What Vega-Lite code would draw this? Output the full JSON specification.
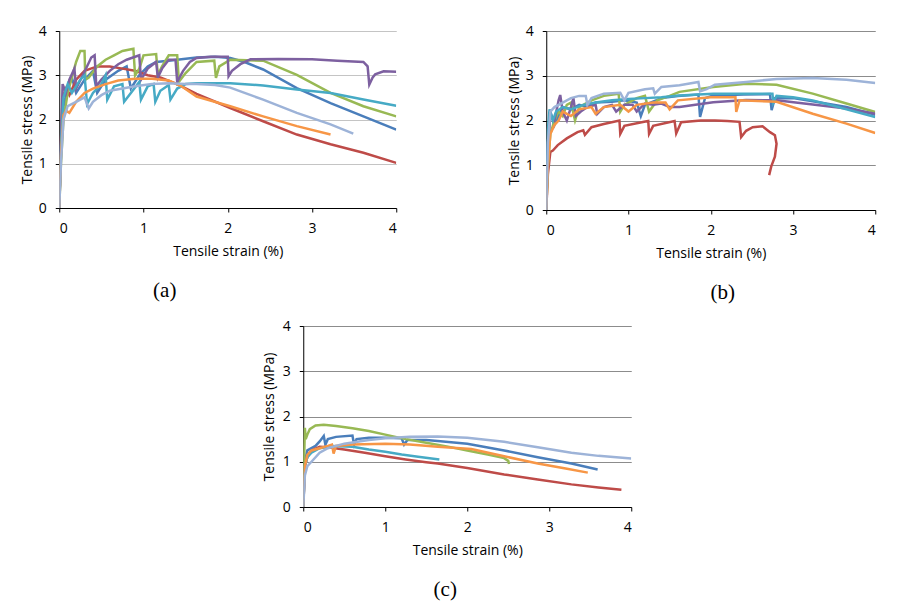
{
 "$schema": "https://vega.github.io/schema/vega-lite/v6.json",
 "background": "white",
 "padding": {"left": 20, "top": 24, "right": 5, "bottom": 5},
 "config": {
  "view": {"stroke": null},
  "font": "Open Sans",
  "axis": {"domainColor": "#000", "tickColor": "#000", "tickSize": 4, "labelFont": "Open Sans", "labelFontSize": 14, "labelColor": "#000", "titleFont": "Open Sans", "titleFontSize": 14, "titleFontWeight": "normal", "titleColor": "#000"},
  "axisX": {"labelPadding": 9, "titlePadding": 9, "grid": false, "labelAngle": 0},
  "axisY": {"labelPadding": 9, "titlePadding": 4, "grid": true},
  "title": {"font": "Liberation Serif", "fontSize": 21, "fontWeight": "normal", "color": "#000", "orient": "bottom", "anchor": "middle", "offset": 22}
 },
 "datasets": {
  "a": [
   {"s":"S1","x":0,"y":0},{"s":"S1","x":0.02,"y":1.2},{"s":"S1","x":0.05,"y":2.3},{"s":"S1","x":0.1,"y":2.7},{"s":"S1","x":0.15,"y":2.95},{"s":"S1","x":0.2,"y":2.6},{"s":"S1","x":0.3,"y":2.9},{"s":"S1","x":0.4,"y":3.1},{"s":"S1","x":0.45,"y":2.6},{"s":"S1","x":0.55,"y":2.9},{"s":"S1","x":0.7,"y":3.1},{"s":"S1","x":0.8,"y":3.2},{"s":"S1","x":0.85,"y":2.7},{"s":"S1","x":0.95,"y":3.0},{"s":"S1","x":1.05,"y":3.2},{"s":"S1","x":1.15,"y":3.3},{"s":"S1","x":1.3,"y":3.33},{"s":"S1","x":1.45,"y":3.36},{"s":"S1","x":1.63,"y":3.4},{"s":"S1","x":1.85,"y":3.42},{"s":"S1","x":2.03,"y":3.39},{"s":"S1","x":2.2,"y":3.3},{"s":"S1","x":2.42,"y":3.13},{"s":"S1","x":2.82,"y":2.71},{"s":"S1","x":3.22,"y":2.37},{"s":"S1","x":3.61,"y":2.07},{"s":"S1","x":4.0,"y":1.77},
   {"s":"S2","x":0,"y":0},{"s":"S2","x":0.02,"y":1.5},{"s":"S2","x":0.04,"y":2.5},{"s":"S2","x":0.08,"y":2.7},{"s":"S2","x":0.12,"y":2.55},{"s":"S2","x":0.2,"y":2.9},{"s":"S2","x":0.3,"y":3.1},{"s":"S2","x":0.45,"y":3.2},{"s":"S2","x":0.6,"y":3.2},{"s":"S2","x":0.75,"y":3.15},{"s":"S2","x":0.9,"y":3.1},{"s":"S2","x":1.05,"y":3.0},{"s":"S2","x":1.2,"y":2.95},{"s":"S2","x":1.4,"y":2.8},{"s":"S2","x":1.63,"y":2.58},{"s":"S2","x":2.03,"y":2.26},{"s":"S2","x":2.42,"y":1.96},{"s":"S2","x":2.82,"y":1.66},{"s":"S2","x":3.22,"y":1.44},{"s":"S2","x":3.61,"y":1.25},{"s":"S2","x":4.0,"y":1.02},
   {"s":"S3","x":0,"y":0},{"s":"S3","x":0.02,"y":1.0},{"s":"S3","x":0.05,"y":2.0},{"s":"S3","x":0.1,"y":2.6},{"s":"S3","x":0.2,"y":3.3},{"s":"S3","x":0.25,"y":3.55},{"s":"S3","x":0.3,"y":3.55},{"s":"S3","x":0.31,"y":2.9},{"s":"S3","x":0.35,"y":2.95},{"s":"S3","x":0.45,"y":3.2},{"s":"S3","x":0.55,"y":3.35},{"s":"S3","x":0.65,"y":3.45},{"s":"S3","x":0.75,"y":3.55},{"s":"S3","x":0.88,"y":3.6},{"s":"S3","x":0.9,"y":3.0},{"s":"S3","x":0.95,"y":3.15},{"s":"S3","x":1.0,"y":3.45},{"s":"S3","x":1.15,"y":3.48},{"s":"S3","x":1.17,"y":3.0},{"s":"S3","x":1.22,"y":3.2},{"s":"S3","x":1.3,"y":3.45},{"s":"S3","x":1.4,"y":3.45},{"s":"S3","x":1.42,"y":2.85},{"s":"S3","x":1.5,"y":3.05},{"s":"S3","x":1.63,"y":3.3},{"s":"S3","x":1.84,"y":3.33},{"s":"S3","x":1.86,"y":2.94},{"s":"S3","x":1.9,"y":3.2},{"s":"S3","x":2.03,"y":3.35},{"s":"S3","x":2.42,"y":3.33},{"s":"S3","x":2.82,"y":3.01},{"s":"S3","x":3.22,"y":2.6},{"s":"S3","x":3.61,"y":2.3},{"s":"S3","x":4.0,"y":2.07},
   {"s":"S4","x":0,"y":0},{"s":"S4","x":0.02,"y":1.5},{"s":"S4","x":0.04,"y":2.8},{"s":"S4","x":0.08,"y":2.6},{"s":"S4","x":0.12,"y":2.9},{"s":"S4","x":0.18,"y":3.15},{"s":"S4","x":0.2,"y":2.7},{"s":"S4","x":0.28,"y":3.0},{"s":"S4","x":0.38,"y":3.4},{"s":"S4","x":0.42,"y":3.45},{"s":"S4","x":0.44,"y":2.75},{"s":"S4","x":0.5,"y":2.9},{"s":"S4","x":0.6,"y":3.1},{"s":"S4","x":0.7,"y":3.25},{"s":"S4","x":0.8,"y":3.35},{"s":"S4","x":0.95,"y":3.45},{"s":"S4","x":0.97,"y":2.9},{"s":"S4","x":1.05,"y":3.15},{"s":"S4","x":1.15,"y":3.3},{"s":"S4","x":1.17,"y":2.95},{"s":"S4","x":1.22,"y":3.15},{"s":"S4","x":1.3,"y":3.35},{"s":"S4","x":1.38,"y":3.35},{"s":"S4","x":1.4,"y":2.85},{"s":"S4","x":1.47,"y":3.1},{"s":"S4","x":1.55,"y":3.3},{"s":"S4","x":1.63,"y":3.39},{"s":"S4","x":1.8,"y":3.42},{"s":"S4","x":2.0,"y":3.42},{"s":"S4","x":2.01,"y":2.98},{"s":"S4","x":2.05,"y":3.1},{"s":"S4","x":2.15,"y":3.25},{"s":"S4","x":2.27,"y":3.36},{"s":"S4","x":2.6,"y":3.37},{"s":"S4","x":3.0,"y":3.36},{"s":"S4","x":3.3,"y":3.33},{"s":"S4","x":3.61,"y":3.3},{"s":"S4","x":3.66,"y":3.2},{"s":"S4","x":3.68,"y":2.79},{"s":"S4","x":3.72,"y":2.95},{"s":"S4","x":3.75,"y":3.02},{"s":"S4","x":3.85,"y":3.09},{"s":"S4","x":4.0,"y":3.08},
   {"s":"S5","x":0,"y":0},{"s":"S5","x":0.02,"y":1.4},{"s":"S5","x":0.05,"y":2.5},{"s":"S5","x":0.1,"y":2.8},{"s":"S5","x":0.15,"y":2.6},{"s":"S5","x":0.25,"y":2.9},{"s":"S5","x":0.3,"y":3.0},{"s":"S5","x":0.33,"y":2.35},{"s":"S5","x":0.4,"y":2.6},{"s":"S5","x":0.5,"y":2.8},{"s":"S5","x":0.55,"y":3.0},{"s":"S5","x":0.57,"y":2.45},{"s":"S5","x":0.65,"y":2.75},{"s":"S5","x":0.75,"y":2.8},{"s":"S5","x":0.77,"y":2.4},{"s":"S5","x":0.85,"y":2.6},{"s":"S5","x":0.95,"y":2.85},{"s":"S5","x":0.97,"y":2.45},{"s":"S5","x":1.05,"y":2.75},{"s":"S5","x":1.12,"y":2.8},{"s":"S5","x":1.14,"y":2.4},{"s":"S5","x":1.2,"y":2.65},{"s":"S5","x":1.3,"y":2.78},{"s":"S5","x":1.32,"y":2.45},{"s":"S5","x":1.4,"y":2.7},{"s":"S5","x":1.5,"y":2.8},{"s":"S5","x":1.63,"y":2.82},{"s":"S5","x":2.03,"y":2.82},{"s":"S5","x":2.42,"y":2.77},{"s":"S5","x":2.82,"y":2.68},{"s":"S5","x":3.22,"y":2.6},{"s":"S5","x":3.61,"y":2.45},{"s":"S5","x":4.0,"y":2.31},
   {"s":"S6","x":0,"y":0},{"s":"S6","x":0.02,"y":1.2},{"s":"S6","x":0.05,"y":2.1},{"s":"S6","x":0.08,"y":2.2},{"s":"S6","x":0.12,"y":2.15},{"s":"S6","x":0.2,"y":2.4},{"s":"S6","x":0.3,"y":2.6},{"s":"S6","x":0.4,"y":2.7},{"s":"S6","x":0.55,"y":2.8},{"s":"S6","x":0.7,"y":2.88},{"s":"S6","x":0.9,"y":2.92},{"s":"S6","x":1.1,"y":2.92},{"s":"S6","x":1.3,"y":2.88},{"s":"S6","x":1.45,"y":2.75},{"s":"S6","x":1.63,"y":2.52},{"s":"S6","x":2.03,"y":2.3},{"s":"S6","x":2.42,"y":2.07},{"s":"S6","x":2.82,"y":1.85},{"s":"S6","x":3.22,"y":1.66},
   {"s":"S7","x":0,"y":0},{"s":"S7","x":0.02,"y":1.0},{"s":"S7","x":0.05,"y":2.0},{"s":"S7","x":0.1,"y":2.3},{"s":"S7","x":0.2,"y":2.4},{"s":"S7","x":0.3,"y":2.5},{"s":"S7","x":0.35,"y":2.25},{"s":"S7","x":0.4,"y":2.4},{"s":"S7","x":0.5,"y":2.55},{"s":"S7","x":0.6,"y":2.65},{"s":"S7","x":0.75,"y":2.7},{"s":"S7","x":0.9,"y":2.75},{"s":"S7","x":1.1,"y":2.8},{"s":"S7","x":1.3,"y":2.82},{"s":"S7","x":1.5,"y":2.8},{"s":"S7","x":1.63,"y":2.8},{"s":"S7","x":1.85,"y":2.78},{"s":"S7","x":2.03,"y":2.72},{"s":"S7","x":2.2,"y":2.6},{"s":"S7","x":2.42,"y":2.45},{"s":"S7","x":2.82,"y":2.15},{"s":"S7","x":3.22,"y":1.89},{"s":"S7","x":3.49,"y":1.68}
  ],
  "b": [
   {"s":"S1","x":0,"y":0},{"s":"S1","x":0.02,"y":1.5},{"s":"S1","x":0.05,"y":2.2},{"s":"S1","x":0.1,"y":1.9},{"s":"S1","x":0.15,"y":2.1},{"s":"S1","x":0.2,"y":2.3},{"s":"S1","x":0.3,"y":2.25},{"s":"S1","x":0.4,"y":2.35},{"s":"S1","x":0.5,"y":2.3},{"s":"S1","x":0.6,"y":2.4},{"s":"S1","x":0.8,"y":2.42},{"s":"S1","x":0.95,"y":2.45},{"s":"S1","x":1.1,"y":2.4},{"s":"S1","x":1.15,"y":2.1},{"s":"S1","x":1.2,"y":2.35},{"s":"S1","x":1.4,"y":2.5},{"s":"S1","x":1.6,"y":2.55},{"s":"S1","x":1.85,"y":2.58},{"s":"S1","x":1.87,"y":2.08},{"s":"S1","x":1.93,"y":2.5},{"s":"S1","x":2.03,"y":2.56},{"s":"S1","x":2.4,"y":2.58},{"s":"S1","x":2.72,"y":2.59},{"s":"S1","x":2.74,"y":2.23},{"s":"S1","x":2.78,"y":2.5},{"s":"S1","x":3.0,"y":2.5},{"s":"S1","x":3.24,"y":2.43},{"s":"S1","x":3.65,"y":2.3},{"s":"S1","x":4.0,"y":2.13},
   {"s":"S2","x":0,"y":0},{"s":"S2","x":0.02,"y":0.8},{"s":"S2","x":0.05,"y":1.3},{"s":"S2","x":0.08,"y":1.33},{"s":"S2","x":0.14,"y":1.45},{"s":"S2","x":0.25,"y":1.6},{"s":"S2","x":0.38,"y":1.74},{"s":"S2","x":0.45,"y":1.78},{"s":"S2","x":0.47,"y":1.68},{"s":"S2","x":0.55,"y":1.85},{"s":"S2","x":0.7,"y":1.92},{"s":"S2","x":0.89,"y":2.0},{"s":"S2","x":0.9,"y":1.7},{"s":"S2","x":0.95,"y":1.88},{"s":"S2","x":1.19,"y":1.97},{"s":"S2","x":1.24,"y":1.99},{"s":"S2","x":1.25,"y":1.7},{"s":"S2","x":1.3,"y":1.88},{"s":"S2","x":1.56,"y":1.99},{"s":"S2","x":1.58,"y":1.71},{"s":"S2","x":1.64,"y":1.96},{"s":"S2","x":1.88,"y":2.0},{"s":"S2","x":2.05,"y":2.0},{"s":"S2","x":2.2,"y":1.99},{"s":"S2","x":2.35,"y":1.97},{"s":"S2","x":2.37,"y":1.63},{"s":"S2","x":2.43,"y":1.77},{"s":"S2","x":2.51,"y":1.85},{"s":"S2","x":2.63,"y":1.87},{"s":"S2","x":2.72,"y":1.74},{"s":"S2","x":2.78,"y":1.67},{"s":"S2","x":2.8,"y":1.48},{"s":"S2","x":2.78,"y":1.19},{"s":"S2","x":2.735,"y":0.97},{"s":"S2","x":2.71,"y":0.78},
   {"s":"S3","x":0,"y":0},{"s":"S3","x":0.02,"y":1.0},{"s":"S3","x":0.05,"y":1.7},{"s":"S3","x":0.1,"y":2.0},{"s":"S3","x":0.15,"y":2.2},{"s":"S3","x":0.2,"y":2.1},{"s":"S3","x":0.25,"y":2.35},{"s":"S3","x":0.3,"y":2.4},{"s":"S3","x":0.35,"y":2.0},{"s":"S3","x":0.4,"y":2.3},{"s":"S3","x":0.55,"y":2.45},{"s":"S3","x":0.7,"y":2.55},{"s":"S3","x":0.88,"y":2.6},{"s":"S3","x":0.9,"y":2.2},{"s":"S3","x":0.95,"y":2.35},{"s":"S3","x":1.1,"y":2.5},{"s":"S3","x":1.2,"y":2.55},{"s":"S3","x":1.25,"y":2.2},{"s":"S3","x":1.35,"y":2.45},{"s":"S3","x":1.5,"y":2.55},{"s":"S3","x":1.62,"y":2.64},{"s":"S3","x":2.03,"y":2.75},{"s":"S3","x":2.43,"y":2.82},{"s":"S3","x":2.8,"y":2.8},{"s":"S3","x":3.24,"y":2.6},{"s":"S3","x":3.65,"y":2.38},{"s":"S3","x":4.0,"y":2.19},
   {"s":"S4","x":0,"y":0},{"s":"S4","x":0.02,"y":1.5},{"s":"S4","x":0.05,"y":2.1},{"s":"S4","x":0.1,"y":2.0},{"s":"S4","x":0.15,"y":2.45},{"s":"S4","x":0.17,"y":2.57},{"s":"S4","x":0.2,"y":2.2},{"s":"S4","x":0.25,"y":2.0},{"s":"S4","x":0.3,"y":2.3},{"s":"S4","x":0.33,"y":2.5},{"s":"S4","x":0.36,"y":2.1},{"s":"S4","x":0.42,"y":2.2},{"s":"S4","x":0.5,"y":2.3},{"s":"S4","x":0.6,"y":2.35},{"s":"S4","x":0.62,"y":2.15},{"s":"S4","x":0.7,"y":2.3},{"s":"S4","x":0.8,"y":2.35},{"s":"S4","x":0.85,"y":2.2},{"s":"S4","x":0.95,"y":2.35},{"s":"S4","x":1.05,"y":2.35},{"s":"S4","x":1.1,"y":2.2},{"s":"S4","x":1.2,"y":2.38},{"s":"S4","x":1.3,"y":2.35},{"s":"S4","x":1.4,"y":2.38},{"s":"S4","x":1.5,"y":2.3},{"s":"S4","x":1.62,"y":2.3},{"s":"S4","x":2.03,"y":2.41},{"s":"S4","x":2.43,"y":2.46},{"s":"S4","x":2.8,"y":2.45},{"s":"S4","x":3.24,"y":2.36},{"s":"S4","x":3.65,"y":2.27},{"s":"S4","x":4.0,"y":2.15},
   {"s":"S5","x":0,"y":0},{"s":"S5","x":0.02,"y":1.8},{"s":"S5","x":0.04,"y":2.25},{"s":"S5","x":0.08,"y":2.0},{"s":"S5","x":0.12,"y":2.2},{"s":"S5","x":0.2,"y":2.3},{"s":"S5","x":0.3,"y":2.25},{"s":"S5","x":0.45,"y":2.35},{"s":"S5","x":0.6,"y":2.4},{"s":"S5","x":0.8,"y":2.45},{"s":"S5","x":1.0,"y":2.48},{"s":"S5","x":1.2,"y":2.5},{"s":"S5","x":1.4,"y":2.52},{"s":"S5","x":1.62,"y":2.56},{"s":"S5","x":2.03,"y":2.6},{"s":"S5","x":2.4,"y":2.6},{"s":"S5","x":2.75,"y":2.6},{"s":"S5","x":2.76,"y":2.4},{"s":"S5","x":2.8,"y":2.55},{"s":"S5","x":3.0,"y":2.52},{"s":"S5","x":3.24,"y":2.45},{"s":"S5","x":3.65,"y":2.25},{"s":"S5","x":4.0,"y":2.08},
   {"s":"S6","x":0,"y":0},{"s":"S6","x":0.02,"y":1.0},{"s":"S6","x":0.05,"y":1.7},{"s":"S6","x":0.1,"y":1.9},{"s":"S6","x":0.15,"y":2.0},{"s":"S6","x":0.2,"y":2.2},{"s":"S6","x":0.3,"y":2.1},{"s":"S6","x":0.4,"y":2.25},{"s":"S6","x":0.55,"y":2.3},{"s":"S6","x":0.6,"y":2.15},{"s":"S6","x":0.7,"y":2.3},{"s":"S6","x":0.9,"y":2.35},{"s":"S6","x":1.0,"y":2.2},{"s":"S6","x":1.1,"y":2.35},{"s":"S6","x":1.3,"y":2.4},{"s":"S6","x":1.45,"y":2.4},{"s":"S6","x":1.5,"y":2.25},{"s":"S6","x":1.6,"y":2.45},{"s":"S6","x":2.0,"y":2.52},{"s":"S6","x":2.3,"y":2.52},{"s":"S6","x":2.31,"y":2.19},{"s":"S6","x":2.35,"y":2.45},{"s":"S6","x":2.8,"y":2.42},{"s":"S6","x":3.24,"y":2.15},{"s":"S6","x":3.65,"y":1.93},{"s":"S6","x":4.0,"y":1.72},
   {"s":"S7","x":0,"y":0},{"s":"S7","x":0.02,"y":1.5},{"s":"S7","x":0.05,"y":2.2},{"s":"S7","x":0.1,"y":2.3},{"s":"S7","x":0.2,"y":2.4},{"s":"S7","x":0.3,"y":2.5},{"s":"S7","x":0.4,"y":2.55},{"s":"S7","x":0.48,"y":2.55},{"s":"S7","x":0.5,"y":2.35},{"s":"S7","x":0.55,"y":2.5},{"s":"S7","x":0.7,"y":2.6},{"s":"S7","x":0.9,"y":2.62},{"s":"S7","x":0.95,"y":2.45},{"s":"S7","x":1.0,"y":2.62},{"s":"S7","x":1.2,"y":2.7},{"s":"S7","x":1.3,"y":2.72},{"s":"S7","x":1.32,"y":2.6},{"s":"S7","x":1.4,"y":2.75},{"s":"S7","x":1.62,"y":2.79},{"s":"S7","x":1.85,"y":2.86},{"s":"S7","x":1.87,"y":2.65},{"s":"S7","x":1.95,"y":2.7},{"s":"S7","x":2.05,"y":2.8},{"s":"S7","x":2.43,"y":2.86},{"s":"S7","x":2.8,"y":2.93},{"s":"S7","x":3.24,"y":2.95},{"s":"S7","x":3.65,"y":2.91},{"s":"S7","x":4.0,"y":2.84}
  ],
  "c": [
   {"s":"S1","x":0,"y":0},{"s":"S1","x":0.02,"y":1.0},{"s":"S1","x":0.05,"y":1.25},{"s":"S1","x":0.1,"y":1.3},{"s":"S1","x":0.15,"y":1.35},{"s":"S1","x":0.2,"y":1.45},{"s":"S1","x":0.25,"y":1.57},{"s":"S1","x":0.27,"y":1.38},{"s":"S1","x":0.3,"y":1.5},{"s":"S1","x":0.4,"y":1.55},{"s":"S1","x":0.6,"y":1.58},{"s":"S1","x":0.62,"y":1.38},{"s":"S1","x":0.65,"y":1.5},{"s":"S1","x":0.8,"y":1.53},{"s":"S1","x":1.0,"y":1.53},{"s":"S1","x":1.2,"y":1.52},{"s":"S1","x":1.23,"y":1.38},{"s":"S1","x":1.27,"y":1.48},{"s":"S1","x":1.5,"y":1.48},{"s":"S1","x":1.64,"y":1.46},{"s":"S1","x":2.0,"y":1.4},{"s":"S1","x":2.45,"y":1.25},{"s":"S1","x":2.86,"y":1.1},{"s":"S1","x":3.27,"y":0.96},{"s":"S1","x":3.59,"y":0.83},
   {"s":"S2","x":0,"y":0},{"s":"S2","x":0.02,"y":0.9},{"s":"S2","x":0.05,"y":1.1},{"s":"S2","x":0.1,"y":1.25},{"s":"S2","x":0.2,"y":1.33},{"s":"S2","x":0.3,"y":1.32},{"s":"S2","x":0.5,"y":1.27},{"s":"S2","x":0.75,"y":1.2},{"s":"S2","x":1.0,"y":1.12},{"s":"S2","x":1.25,"y":1.05},{"s":"S2","x":1.5,"y":0.99},{"s":"S2","x":1.64,"y":0.96},{"s":"S2","x":2.0,"y":0.86},{"s":"S2","x":2.45,"y":0.72},{"s":"S2","x":2.86,"y":0.61},{"s":"S2","x":3.27,"y":0.5},{"s":"S2","x":3.6,"y":0.43},{"s":"S2","x":3.88,"y":0.38},
   {"s":"S3","x":0,"y":0},{"s":"S3","x":0.01,"y":1.0},{"s":"S3","x":0.02,"y":1.75},{"s":"S3","x":0.03,"y":1.5},{"s":"S3","x":0.05,"y":1.6},{"s":"S3","x":0.08,"y":1.72},{"s":"S3","x":0.15,"y":1.8},{"s":"S3","x":0.25,"y":1.82},{"s":"S3","x":0.4,"y":1.79},{"s":"S3","x":0.6,"y":1.74},{"s":"S3","x":0.8,"y":1.68},{"s":"S3","x":1.0,"y":1.6},{"s":"S3","x":1.25,"y":1.5},{"s":"S3","x":1.5,"y":1.42},{"s":"S3","x":1.75,"y":1.34},{"s":"S3","x":2.0,"y":1.25},{"s":"S3","x":2.25,"y":1.16},{"s":"S3","x":2.45,"y":1.08},{"s":"S3","x":2.5,"y":1.02},{"s":"S3","x":2.51,"y":0.95},
   {"s":"S5","x":0,"y":0},{"s":"S5","x":0.02,"y":0.9},{"s":"S5","x":0.05,"y":1.1},{"s":"S5","x":0.1,"y":1.2},{"s":"S5","x":0.2,"y":1.3},{"s":"S5","x":0.35,"y":1.35},{"s":"S5","x":0.6,"y":1.33},{"s":"S5","x":0.8,"y":1.27},{"s":"S5","x":1.0,"y":1.22},{"s":"S5","x":1.2,"y":1.16},{"s":"S5","x":1.4,"y":1.11},{"s":"S5","x":1.66,"y":1.05},
   {"s":"S6","x":0,"y":0},{"s":"S6","x":0.02,"y":0.9},{"s":"S6","x":0.05,"y":1.15},{"s":"S6","x":0.1,"y":1.25},{"s":"S6","x":0.2,"y":1.3},{"s":"S6","x":0.3,"y":1.35},{"s":"S6","x":0.35,"y":1.38},{"s":"S6","x":0.37,"y":1.18},{"s":"S6","x":0.4,"y":1.35},{"s":"S6","x":0.6,"y":1.38},{"s":"S6","x":1.0,"y":1.4},{"s":"S6","x":1.3,"y":1.38},{"s":"S6","x":1.64,"y":1.33},{"s":"S6","x":2.05,"y":1.28},{"s":"S6","x":2.45,"y":1.12},{"s":"S6","x":2.86,"y":0.96},{"s":"S6","x":3.2,"y":0.85},{"s":"S6","x":3.47,"y":0.76},
   {"s":"S7","x":0,"y":0},{"s":"S7","x":0.02,"y":0.7},{"s":"S7","x":0.05,"y":0.9},{"s":"S7","x":0.1,"y":1.0},{"s":"S7","x":0.2,"y":1.2},{"s":"S7","x":0.3,"y":1.3},{"s":"S7","x":0.5,"y":1.4},{"s":"S7","x":0.8,"y":1.48},{"s":"S7","x":1.0,"y":1.52},{"s":"S7","x":1.3,"y":1.55},{"s":"S7","x":1.64,"y":1.56},{"s":"S7","x":2.0,"y":1.53},{"s":"S7","x":2.45,"y":1.44},{"s":"S7","x":2.86,"y":1.32},{"s":"S7","x":3.27,"y":1.2},{"s":"S7","x":3.6,"y":1.13},{"s":"S7","x":4.0,"y":1.07}
  ]
 },
 "vconcat": [
  {
   "hconcat": [
    {
     "width": 337, "height": 177,
     "data": {"name": "a"},
     "title": {"text": "(a)", "dx": -63},
     "mark": {"type": "line", "strokeWidth": 2.5, "clip": true},
     "encoding": {
      "x": {"field": "x", "type": "quantitative", "scale": {"domain": [0, 4], "nice": false}, "axis": {"title": "Tensile strain (%)", "values": [0, 1, 2, 3, 4]}},
      "y": {"field": "y", "type": "quantitative", "scale": {"domain": [0, 4], "nice": false}, "axis": {"title": "Tensile stress (MPa)", "values": [0, 1, 2, 3, 4], "gridColor": "#C4C4C4"}},
      "color": {"field": "s", "type": "nominal", "scale": {"domain": ["S1","S2","S3","S4","S5","S6","S7"], "range": ["#4A7EBB","#BE4B48","#98B954","#7D60A0","#46AAC5","#F79646","#9DB3D8"]}, "legend": null},
      "order": {"value": null}
     }
    },
    {
     "width": 329, "height": 179,
     "data": {"name": "b"},
     "title": {"text": "(b)", "dx": 12},
     "mark": {"type": "line", "strokeWidth": 2.5, "clip": true},
     "encoding": {
      "x": {"field": "x", "type": "quantitative", "scale": {"domain": [0, 4], "nice": false}, "axis": {"title": "Tensile strain (%)", "values": [0, 1, 2, 3, 4]}},
      "y": {"field": "y", "type": "quantitative", "scale": {"domain": [0, 4], "nice": false}, "axis": {"title": "Tensile stress (MPa)", "values": [0, 1, 2, 3, 4], "gridColor": "#8C8C8C"}},
      "color": {"field": "s", "type": "nominal", "scale": {"domain": ["S1","S2","S3","S4","S5","S6","S7"], "range": ["#4A7EBB","#BE4B48","#98B954","#7D60A0","#46AAC5","#F79646","#9DB3D8"]}, "legend": null},
      "order": {"value": null}
     }
    }
   ],
   "spacing": 109
  },
  {
   "width": 328, "height": 181,
   "data": {"name": "c"},
   "title": {"text": "(c)", "dx": -22},
   "mark": {"type": "line", "strokeWidth": 2.5, "clip": true},
   "encoding": {
    "x": {"field": "x", "type": "quantitative", "scale": {"domain": [0, 4], "nice": false}, "axis": {"title": "Tensile strain (%)", "values": [0, 1, 2, 3, 4]}},
    "y": {"field": "y", "type": "quantitative", "scale": {"domain": [0, 4], "nice": false}, "axis": {"title": "Tensile stress (MPa)", "values": [0, 1, 2, 3, 4], "gridColor": "#8C8C8C", "titlePadding": 6}},
    "color": {"field": "s", "type": "nominal", "scale": {"domain": ["S1","S2","S3","S4","S5","S6","S7"], "range": ["#4A7EBB","#BE4B48","#98B954","#7D60A0","#46AAC5","#F79646","#9DB3D8"]}, "legend": null},
    "order": {"value": null}
   }
  }
 ],
 "spacing": 16,
 "center": true
}
